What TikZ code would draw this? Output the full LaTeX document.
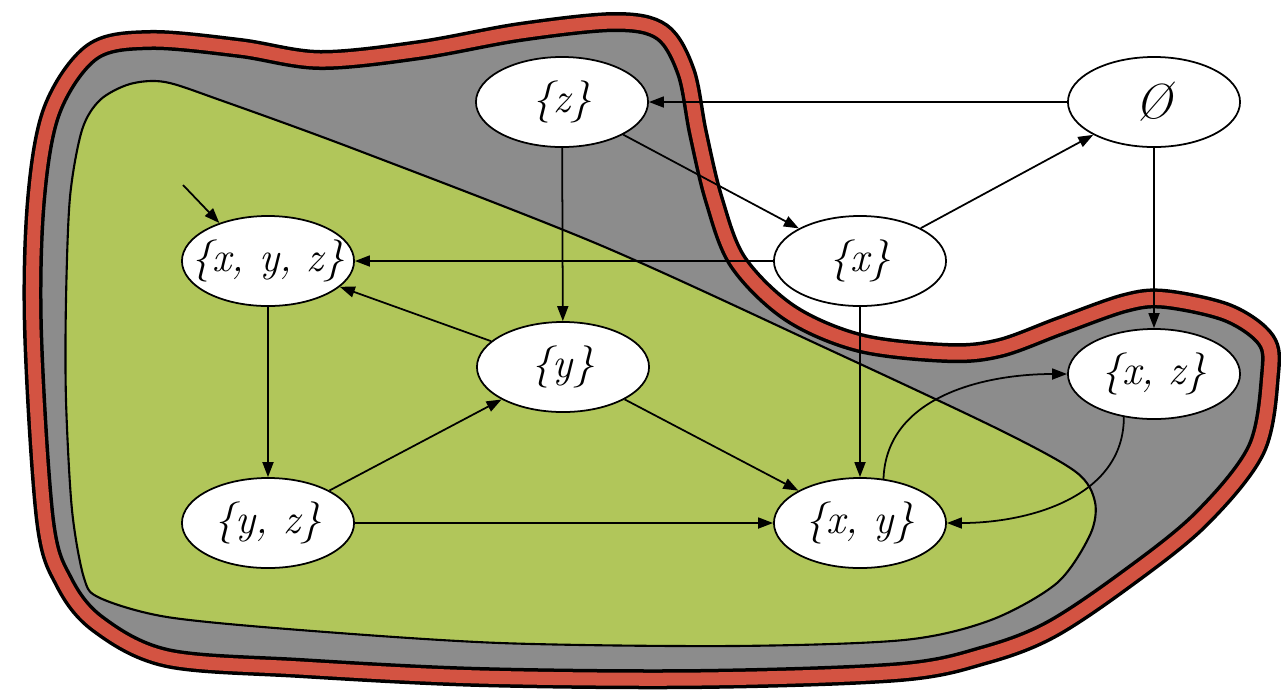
\documentclass[tikz,border=0pt]{standalone}
\usepackage{tikz}
\usetikzlibrary{
  arrows.meta,
  shapes.geometric
}
\definecolor{bandred}{RGB}{211,83,66}
\definecolor{regiongray}{RGB}{140,140,140}
\definecolor{regiongreen}{RGB}{177,198,90}
\tikzset{
  setnode/.style={
    ellipse,
    draw=black,
    fill=white,
    line width=0.5pt,
    minimum width=1.72cm,
    minimum height=0.9cm,
    inner xsep=-0.3cm,
    inner ysep=0pt,
    font=\fontsize{12}{14}\selectfont\itshape
  },
  trans/.style={
    -{Triangle[length=1.5mm,width=1.1mm]},
    line width=0.5pt,
    draw=black
  },
  outerband/.style={
    draw=black,
    line width=0.2cm,
    fill=regiongray,
    postaction={draw=bandred, line width=0.13cm}
  },
  innerregion/.style={
    draw=black,
    line width=0.6pt,
    fill=regiongreen
  }
}

\begin{document}
\begin{tikzpicture}[x=0.01cm, y=-0.01cm]
\fill[white] (0,0) rectangle (1281,690);
\useasboundingbox (0,0) rectangle (1281,690);

% regions
\path[outerband] plot[smooth cycle, tension=0.55] coordinates {
  (33,330) (36,200) (52,110) (92,52) (150,40) (240,48) (320,60) (420,50)
  (520,32) (615,22) (662,32) (686,72) (698,133) (714,200) (738,262)
  (790,313) (860,343) (948,353) (1000,348) (1060,326) (1125,303)
  (1165,299) (1228,313) (1266,340) (1270,375) (1256,450) (1200,520)
  (1125,580) (1050,630) (985,655) (900,672) (700,679) (480,677)
  (300,668) (167,658) (98,624) (64,582) (45,520)};
\path[innerregion] plot[smooth cycle, tension=0.5] coordinates {
  (66,300) (70,197) (82,130) (100,100) (130,84) (165,82) (220,100)
  (357,150) (600,245) (830,350) (1000,430) (1076,472) (1095,502)
  (1090,535) (1057,583) (991,620) (904,640) (732,646) (500,643)
  (300,630) (167,617) (100,598) (84,578) (72,510) (66,400)};

% states
\node[setnode] (z)     at (562,102)  {\{z\}};
\node[setnode] (empty) at (1154,102) {\fontsize{14}{16}\selectfont Ø};
\node[setnode] (xyz)   at (268,261)  {\{x, y, z\}};
\node[setnode] (x)     at (860,261)  {\{x\}};
\node[setnode] (y)     at (563,367)  {\{y\}};
\node[setnode] (xz)    at (1154,374) {\{x, z\}};
\node[setnode] (yz)    at (268,523)  {\{y, z\}};
\node[setnode] (xy)    at (860,523)  {\{x, y\}};
\coordinate (init) at (183,185);

% transitions
\draw[trans] (init) -- (xyz.142);
\draw[trans] (empty) -- (z);
\draw[trans] (z) -- (x);
\draw[trans] (x) -- (empty);
\draw[trans] (empty) -- (xz);
\draw[trans] (z) -- (y);
\draw[trans] (x) -- (xyz);
\draw[trans] (y) -- (xyz);
\draw[trans] (xyz) -- (yz);
\draw[trans] (yz) -- (y);
\draw[trans] (yz) -- (xy);
\draw[trans] (y) -- (xy);
\draw[trans] (x) -- (xy);
\draw[trans] (xy.62) to[out=88, in=180] (xz.west);
\draw[trans] (xz.235) to[out=-90, in=0] (xy.east);
\end{tikzpicture}
\end{document}
